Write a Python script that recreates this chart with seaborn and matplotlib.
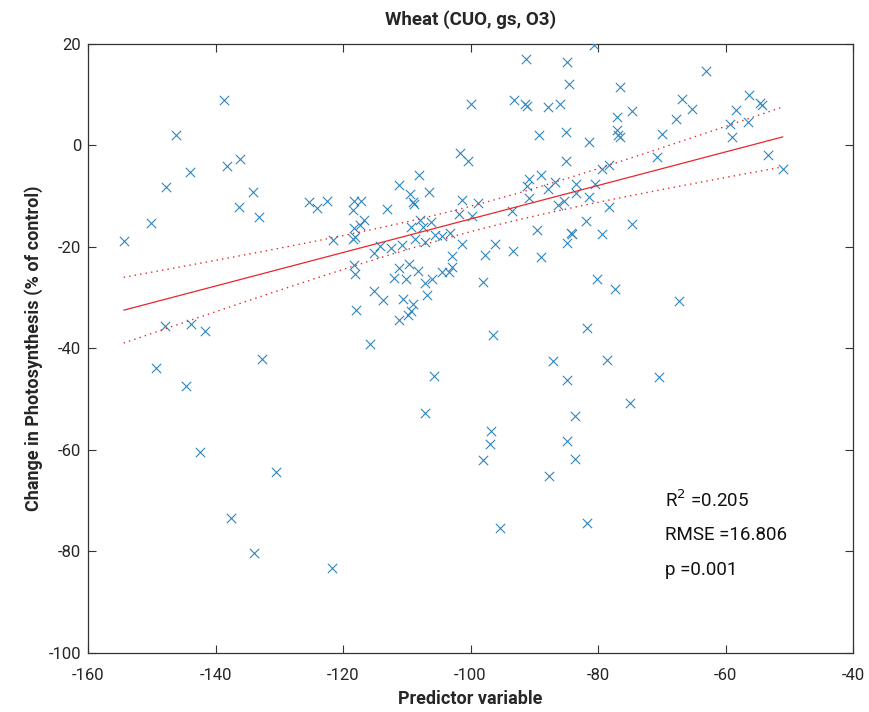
import numpy as np
import pandas as pd
import matplotlib
matplotlib.use("Agg")
import matplotlib.pyplot as plt
import seaborn as sns

x_vals = [
    -138.7, -146.2, -136.1, -138.2, -144.0, -147.7, -134.1, -136.3, -133.2, -150.2, -154.4,
    -99.9, -101.6, -100.4, -108.1, -111.2, -109.5, -106.5, -109.0, -108.9, -125.3, -124.1,
    -122.5, -118.3, -117.2, -118.5, -113.1, -101.3, -101.8, -99.7, -116.7, -117.3, -118.3,
    -109.4, -107.9, -106.2, -107.4,
    -121.5, -118.5, -118.1, -115.2, -114.2, -112.4, -110.7, -108.7, -107.1, -105.6, -104.4,
    -103.2, -101.4, -102.9, -118.3, -118.1, -111.2, -109.6, -108.2, -112.0, -110.1, -107.2,
    -106.0, -104.4, -103.4, -102.9, -115.1, -113.7, -110.6, -106.8, -109.1, -109.3, -109.8,
    -111.2, -117.9, -115.8, -105.7, -107.2,
    -80.6, -91.3, -84.8, -84.6, -76.6, -93.2, -91.5, -91.2, -87.8, -86.0, -77.0, -74.6,
    -89.2, -85.0, -77.1, -76.8, -76.5, -81.4, -70.0, -70.7, -85.0, -79.4, -78.3, -88.9,
    -90.9, -91.2, -86.7, -87.8, -83.4, -83.4, -80.4, -81.4, -90.9, -85.4, -86.2, -78.3,
    -98.8, -93.5, -81.9, -74.6, -89.5, -84.3, -84.1, -79.4,
    -84.8, -96.2, -97.8, -93.3, -89.0, -98.1, -80.1, -77.4, -96.4, -81.7, -87.1, -78.6,
    -70.4, -84.9, -75.0, -83.6,
    -67.3,
    -63.0, -56.3, -66.9, -54.6, -54.2, -65.3, -58.4, -67.8, -56.4, -59.3, -59.0, -53.3, -51.0,
    -147.9, -143.8, -141.6, -132.7, -149.3, -144.7,
    -142.4, -130.5, -137.6, -133.9, -121.7,
    -96.8, -96.9, -98.0, -84.9, -83.6, -87.7, -95.4, -81.8,
]
y_vals = [
    8.9, 2.1, -2.7, -4.0, -5.2, -8.2, -9.2, -12.1, -14.1, -15.3, -18.8,
    8.2, -1.4, -3.1, -5.8, -7.7, -9.6, -9.2, -11.1, -11.5, -11.1, -12.3,
    -10.9, -10.9, -11.0, -12.8, -12.6, -10.8, -13.5, -13.9, -14.7, -15.7, -16.2,
    -16.1, -14.7, -15.0, -16.1,
    -18.6, -18.5, -18.1, -21.1, -19.9, -20.1, -19.7, -18.4, -19.0, -17.6, -17.8,
    -17.3, -19.4, -21.8, -23.5, -25.4, -24.1, -23.4, -24.7, -26.2, -26.3, -27.0,
    -26.4, -25.0, -25.0, -24.0, -28.6, -30.4, -30.2, -29.4, -31.2, -32.7, -33.4,
    -34.3, -32.5, -39.1, -45.4, -52.8,
    19.8, 17.0, 16.4, 12.1, 11.5, 9.0, 8.1, 7.8, 7.6, 8.2, 5.7, 6.7,
    2.0, 2.7, 3.1, 2.1, 1.7, 0.7, 2.3, -2.3, -3.1, -4.6, -3.9, -5.9,
    -6.7, -7.9, -7.1, -8.6, -7.5, -9.4, -7.6, -10.2, -10.3, -10.9, -11.7, -12.1,
    -11.3, -13.0, -14.9, -15.4, -16.7, -17.2, -17.5, -17.5,
    -19.3, -19.5, -21.6, -20.7, -21.9, -26.8, -26.3, -28.3, -37.3, -36.0, -42.5, -42.3,
    -45.6, -46.2, -50.8, -53.3,
    -30.6,
    14.7, 10.0, 9.2, 8.4, 8.0, 7.1, 6.9, 5.2, 4.6, 4.2, 1.7, -1.8, -4.6,
    -35.5, -35.2, -36.6, -42.1, -43.8, -47.4,
    -60.3, -64.4, -73.4, -80.3, -83.2,
    -56.3, -58.9, -62.0, -58.2, -61.8, -65.1, -75.4, -74.4,
]

title = "Wheat (CUO, gs, O3)"
xlabel = "Predictor variable"
ylabel = "Change in Photosynthesis (% of control)"
stats_labels = ["R$^2$ =0.205", "RMSE =16.806", "p =0.001"]
xticks = [-160, -140, -120, -100, -80, -60, -40]
yticks = [-100, -80, -60, -40, -20, 0, 20]

df = pd.DataFrame({"x": x_vals, "y": y_vals})

sns.set_style("white")
plt.rcParams["font.family"] = ["Roboto", "DejaVu Sans"]

fig = plt.figure(figsize=(8.69, 7.12), dpi=100)
ax = fig.add_axes([0.1013, 0.0829, 0.8803, 0.8553])

sns.scatterplot(data=df, x="x", y="y", marker="x", color="#2f86bd",
                s=45, linewidth=0.8, ax=ax, zorder=3)

# robust (bisquare) linear fit, as in MATLAB robustfit, with 95% CI of the mean
xa = df["x"].to_numpy()
ya = df["y"].to_numpy()
n = len(xa)
p = 2
tune = 4.685
X = np.column_stack([np.ones(n), xa])
XtX_inv = np.linalg.inv(X.T @ X)
h = np.clip(np.einsum("ij,jk,ik->i", X, XtX_inv, X), 0, 0.9999)
beta = XtX_inv @ X.T @ ya
ols_res = ya - X @ beta
ols_s = np.sqrt(np.sum(ols_res ** 2) / (n - p))


def bisq(u):
    return np.where(np.abs(u) < 1, (1 - u ** 2) ** 2, 0.0)


for _ in range(200):
    r = ya - X @ beta
    radj = r / np.sqrt(1 - h)
    rs = np.sort(np.abs(radj))
    s_mad = np.median(rs[p - 1:]) / 0.6745
    w = bisq(radj / (tune * s_mad))
    Wsq = np.sqrt(w)
    new_beta = np.linalg.lstsq(X * Wsq[:, None], ya * Wsq, rcond=None)[0]
    done = np.allclose(new_beta, beta, atol=1e-10)
    beta = new_beta
    if done:
        break

r = ya - X @ beta
radj = r / np.sqrt(1 - h)
rs = np.sort(np.abs(radj))
s_mad = np.median(rs[p - 1:]) / 0.6745
st = s_mad * tune
u = radj / st
phi = u * bisq(u)
d = 1e-4
dphi = ((u + d) * bisq(u + d) - (u - d) * bisq(u - d)) / (2 * d)
m1 = np.mean(dphi)
m2 = np.sum((1 - h) * phi ** 2) / (n - p)
K = 1 + (p / n) * (1 - m1) / m1
rob_s = K * np.sqrt(m2) * st / m1
sigma = max(rob_s, np.sqrt((ols_s ** 2 * p ** 2 + rob_s ** 2 * n) / (p ** 2 + n)))
cov = sigma ** 2 * XtX_inv

a, b = beta
xs = np.linspace(xa.min(), xa.max(), 100)
yfit = a + b * xs
Xs = np.column_stack([np.ones_like(xs), xs])
se = np.sqrt(np.einsum("ij,jk,ik->i", Xs, cov, Xs))
t = 1.974
ax.plot(xs, yfit, color="#e8262b", lw=0.9, zorder=4)
ax.plot(xs, yfit + t * se, color="#e8262b", lw=1.0, ls=(0, (1, 3)), zorder=4)
ax.plot(xs, yfit - t * se, color="#e8262b", lw=1.0, ls=(0, (1, 3)), zorder=4)

ax.set_xlim(-160, -40)
ax.set_ylim(-100, 20)
ax.set_xticks(xticks)
ax.set_yticks(yticks)
ax.set_xticklabels([str(v) for v in xticks], fontsize=12)
ax.set_yticklabels([str(v) for v in yticks], fontsize=12)
ax.tick_params(axis="x", pad=11)
ax.tick_params(axis="y", pad=5)
ax.tick_params(direction="in", length=6, width=0.8, color="#333333",
               top=True, right=True, bottom=True, left=True)
for sp in ax.spines.values():
    sp.set_color("#333333")
    sp.set_linewidth(0.9)

ax.set_title(title, fontsize=13.5, fontweight="bold", pad=14)
ax.set_xlabel(xlabel, fontsize=13, fontweight="bold", labelpad=5)
ax.set_ylabel(ylabel, fontsize=13, fontweight="bold", labelpad=4)

for lab, yy in zip(stats_labels, [-69.9, -76.7, -83.6]):
    ax.text(-69.5, yy, lab, fontsize=13.5, va="center", ha="left", color="#111111")

fig.savefig("out.png", dpi=100)
